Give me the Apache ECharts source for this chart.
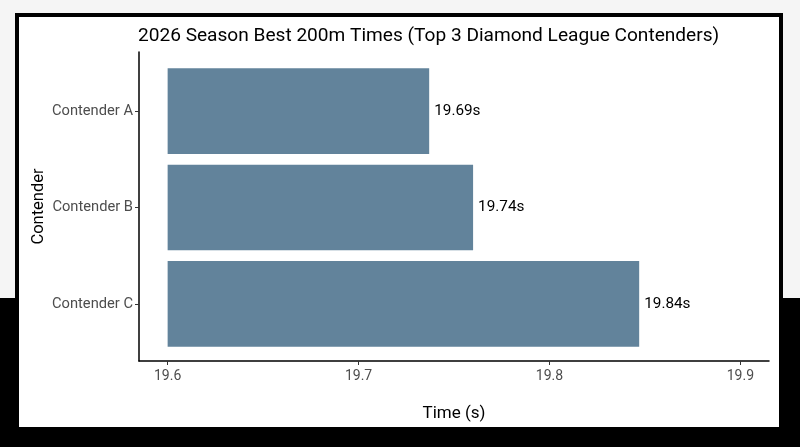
<!DOCTYPE html>
<html>
<head>
<meta charset="utf-8">
<script src="https://cdn.jsdelivr.net/npm/echarts@6/dist/echarts.min.js"></script>
<style>
  html, body { margin: 0; padding: 0; width: 800px; height: 447px; overflow: hidden;
    background: linear-gradient(to bottom, #f5f5f5 0px, #f5f5f5 298px, #000 298px, #000 447px); }
  #panel { position: absolute; left: 15px; top: 13px; width: 768px; height: 418px;
    box-sizing: border-box; border: 4px solid #000; background: #fff; }
  #chart { position: absolute; left: 0; top: 0; width: 800px; height: 447px; }
</style>
</head>
<body>
<div id="panel"></div>
<div id="chart"></div>
<script>
const titleText = '2026 Season Best 200m Times (Top 3 Diamond League Contenders)';
const categories = ['Contender A', 'Contender B', 'Contender C'];
const barEnds = [19.737, 19.760, 19.847];
const barLabels = ['19.69s', '19.74s', '19.84s'];
const barStart = 19.6;
const tickValues = [19.6, 19.7, 19.8, 19.9];
const axisMin = 19.585;
const axisMax = 19.915;

const font = 'Roboto';
const baseData = categories.map(() => barStart);
const visData = barEnds.map(v => +(v - barStart).toFixed(4));

const chart = echarts.init(document.getElementById('chart'), null, { renderer: 'canvas' });
chart.setOption({
  animation: false,
  backgroundColor: 'transparent',
  textStyle: { fontFamily: font },
  title: {
    text: titleText, left: 138, top: 27, padding: 0,
    textStyle: { fontFamily: font, fontSize: 19.1, fontWeight: 'normal', color: '#000' }
  },
  grid: [
    { left: 139, right: 31, top: 63, bottom: 95 },
    { left: 139, right: 31, top: 52, bottom: 86 }
  ],
  xAxis: [
    { type: 'value', gridIndex: 0, min: axisMin, max: axisMax, show: false },
    {
      type: 'value', gridIndex: 1, min: axisMin, max: axisMax,
      name: 'Time (s)', nameLocation: 'middle', nameGap: 44,
      nameTextStyle: { fontFamily: font, fontSize: 17, color: '#000' },
      axisLine: { show: true, lineStyle: { color: '#000', width: 1.5 } },
      axisTick: { show: true, length: 4, customValues: tickValues, lineStyle: { color: '#333' } },
      axisLabel: { show: true, customValues: tickValues, margin: 8, fontSize: 14, color: '#4d4d4d', fontFamily: font,
        formatter: v => String(v) },
      splitLine: { show: false }
    }
  ],
  yAxis: [
    {
      type: 'category', gridIndex: 0, data: categories, inverse: true,
      axisLine: { show: false },
      axisTick: { show: true, length: 4, alignWithLabel: true, lineStyle: { color: '#333' } },
      axisLabel: { margin: 6, fontSize: 14.7, color: '#4d4d4d', fontFamily: font }
    },
    {
      type: 'value', gridIndex: 1, min: 0, max: 1,
      name: 'Contender', nameLocation: 'middle', nameGap: 92, nameRotate: 90,
      nameTextStyle: { fontFamily: font, fontSize: 16.5, color: '#000' },
      axisLine: { show: true, lineStyle: { color: '#000', width: 1.5 } },
      axisTick: { show: false }, axisLabel: { show: false }, splitLine: { show: false }
    }
  ],
  series: [
    {
      type: 'bar', xAxisIndex: 0, yAxisIndex: 0, stack: 'bar', silent: true,
      data: baseData, barWidth: '89%',
      itemStyle: { color: 'transparent' }
    },
    {
      type: 'bar', xAxisIndex: 0, yAxisIndex: 0, stack: 'bar',
      data: visData, barWidth: '89%',
      itemStyle: { color: '#62839b' },
      label: {
        show: true, position: 'right', distance: 5,
        fontFamily: font, fontSize: 15.3, color: '#000',
        formatter: p => barLabels[p.dataIndex]
      }
    }
  ]
});
</script>
</body>
</html>
